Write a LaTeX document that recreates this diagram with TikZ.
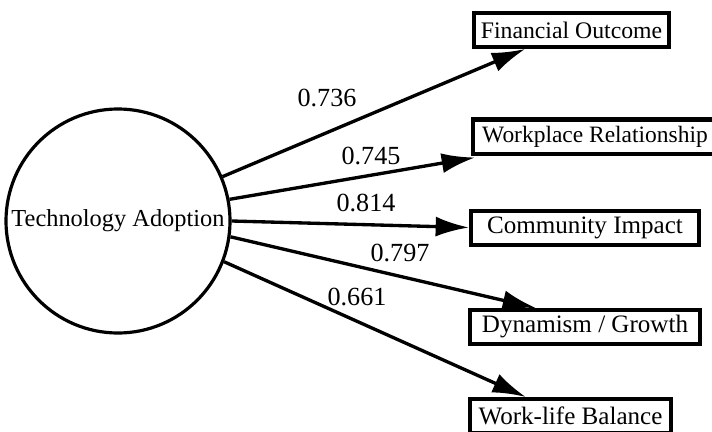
\documentclass[tikz,border=0pt]{standalone}
\usepackage{fontspec}
\setmainfont{Liberation Serif}
\usepackage{tikz}
\usetikzlibrary{calc}
\usetikzlibrary{arrows.meta}
\tikzstyle{fattore} = [circle, draw=black, line width=2.4pt, minimum size=168pt, inner sep=0pt, font=\fontsize{18.3}{21}\selectfont]
\tikzstyle{indicatore} = [rectangle, draw=black, line width=3pt, minimum height=25.5pt, inner sep=0pt, text centered, font=\fontsize{18.8}{21}\selectfont]
\tikzstyle{peso} = [inner sep=0pt, font=\fontsize{19.6}{22}\selectfont]
\tikzstyle{arrow} = [line width=2.5pt, -{Latex[length=25pt, width=15pt]}]

\begin{document}
\begin{tikzpicture}[x=0.75pt, y=-0.75pt]
						\useasboundingbox (0,0) rectangle (712,431);
						\node (ta) at (118,221) [fattore] {Technology Adoption};
						\node (fo) at (571.5,30) [indicatore, minimum width=146pt, font=\fontsize{17.8}{21}\selectfont] {Financial Outcome};
						\node (wr) at (595,136.5) [indicatore, minimum width=183pt, font=\fontsize{17.6}{21}\selectfont] {Workplace Relationship};
						\node (ci) at (585,227.5) [indicatore, minimum width=171pt] {Community Impact};
						\node (dg) at (585,327) [indicatore, minimum width=172.5pt] {Dynamism / Growth};
						\node (wb) at (570.5,416) [indicatore, minimum width=151pt] {Work-life Balance};
						\draw[arrow] (ta.23) -- ($(fo.south west)+(53,0)$);
						\draw[arrow] (ta.11) -- ($(wr.south west)+(4,2)$);
						\draw[arrow] (ta.0) -- (ci.west);
						\draw[arrow] (ta.-8.5) -- ($(dg.north west)+(68,0)$);
						\draw[arrow] (ta.-21.4) -- ($(wb.north west)+(58,0)$);
						\node (p1) at (327,98) [peso] {0.736};
						\node (p2) at (371,156) [peso] {0.745};
						\node (p3) at (366,203) [peso] {0.814};
						\node (p4) at (400,253) [peso] {0.797};
						\node (p5) at (357,297) [peso] {0.661};
					\end{tikzpicture}
\end{document}
